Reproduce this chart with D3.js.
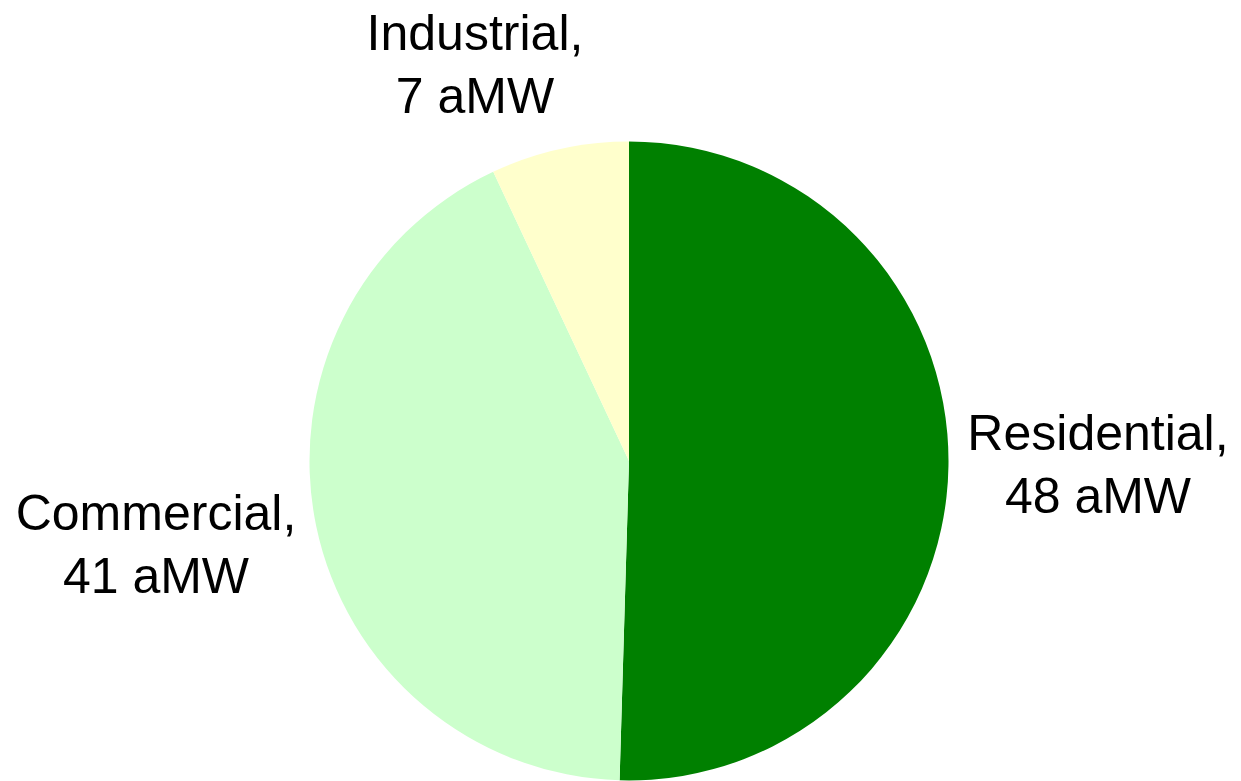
<!DOCTYPE html>
<html>
<head>
<meta charset="utf-8">
<script src="https://cdn.jsdelivr.net/npm/d3@7"></script>
<style>
  html, body { margin: 0; padding: 0; background: #fff; }
  svg { display: block; }
  text { font-family: "Liberation Sans", Arial, sans-serif; }
</style>
</head>
<body>
<script>
// ---- data ----
const categories = ["Residential", "Commercial", "Industrial"];
const values = [48.4, 40.8, 6.7];          // aMW
const unit = "aMW";
const colors = ["#008000", "#CCFFCC", "#FFFFCC"];

// ---- layout ----
const W = 1241, H = 781;
const cx = 629, cy = 461, R = 319.5;
const fontSize = 50, lineGap = 62.5;
// label centres (text-anchor middle) and first baseline
const labelLayout = [
  { x: 1098, y: 450 },
  { x: 156,  y: 530 },
  { x: 475,  y: 50 }
];

const svg = d3.select("body").append("svg")
  .attr("width", W).attr("height", H);

const pie = d3.pie().sort(null).value(d => d.v);
const data = categories.map((c, i) => ({ c, v: values[i], col: colors[i] }));
const arcs = pie(data);
const arc = d3.arc().innerRadius(0).outerRadius(R);

const g = svg.append("g").attr("transform", `translate(${cx},${cy})`);
g.selectAll("path").data(arcs).enter().append("path")
  .attr("d", arc)
  .attr("fill", d => d.data.col)
  .attr("stroke", "none");

const labels = svg.selectAll("text.lbl").data(arcs).enter().append("text")
  .attr("class", "lbl")
  .attr("text-anchor", "middle")
  .attr("font-size", fontSize)
  .attr("fill", "#000");

labels.each(function(d, i) {
  const t = d3.select(this);
  const p = labelLayout[i];
  t.append("tspan").attr("x", p.x).attr("y", p.y).text(d.data.c + ",");
  t.append("tspan").attr("x", p.x).attr("y", p.y + lineGap)
    .text(Math.round(d.data.v) + " " + unit);
});
</script>
</body>
</html>
